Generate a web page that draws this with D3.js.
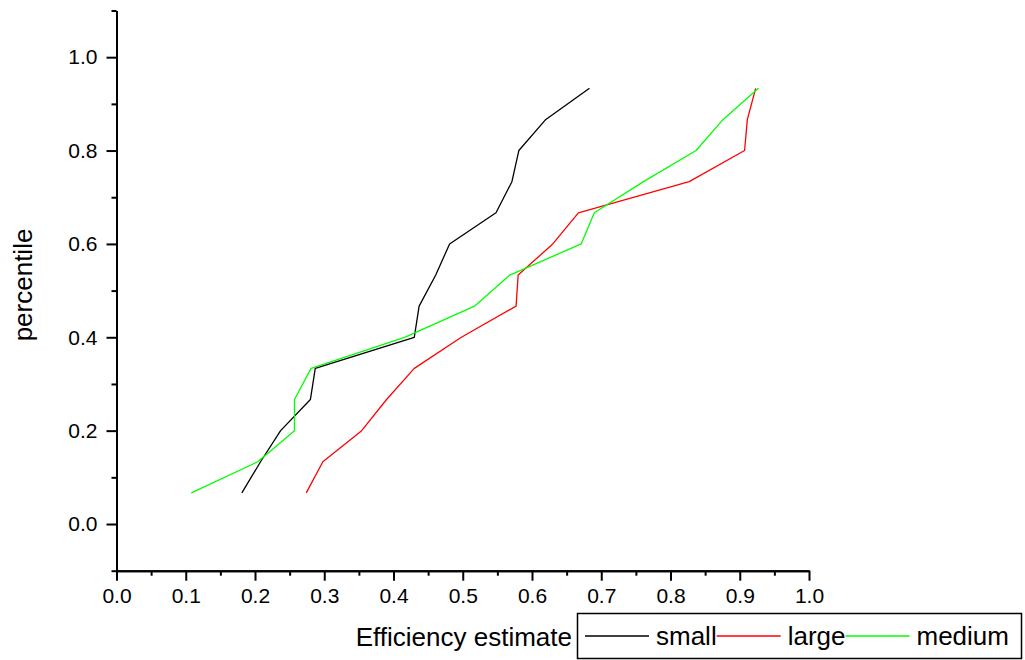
<!DOCTYPE html>
<html>
<head>
<meta charset="utf-8">
<script src="https://cdn.jsdelivr.net/npm/d3@7"></script>
<style>
  html, body { margin: 0; padding: 0; background: #fff; }
  svg { display: block; font-family: "Liberation Sans", Arial, sans-serif; }
</style>
</head>
<body>
<svg id="chart" width="1025" height="660"></svg>
<script>
// ---- data ----
const percentiles = [1,2,3,4,5,6,7,8,9,10,11,12,13,14].map(k => k / 15);
const seriesNames = ["small", "large", "medium"];
const seriesColors = ["#000000", "#ff0000", "#00ff00"];
const smallValues  = [0.181, 0.208, 0.237, 0.280, 0.287, 0.430, 0.437, 0.461, 0.481, 0.548, 0.571, 0.581, 0.620, 0.683];
const largeValues  = [0.274, 0.298, 0.354, 0.390, 0.430, 0.498, 0.577, 0.580, 0.630, 0.667, 0.827, 0.907, 0.911, 0.923];
const mediumValues = [0.108, 0.204, 0.257, 0.257, 0.281, 0.416, 0.517, 0.568, 0.671, 0.690, 0.761, 0.837, 0.876, 0.927];
const xTickValues = [0,0.1,0.2,0.3,0.4,0.5,0.6,0.7,0.8,0.9,1.0];
const yTickValues = [0,0.2,0.4,0.6,0.8,1.0];
const xMinorTicks = [0.05,0.15,0.25,0.35,0.45,0.55,0.65,0.75,0.85,0.95];
const yMinorTicks = [-0.1,0.1,0.3,0.5,0.7,0.9,1.1];
const xTitle = "Efficiency estimate";
const yTitle = "percentile";

const series = [smallValues, largeValues, mediumValues];

const svg = d3.select("#chart");
const x = d3.scaleLinear().domain([0, 1]).range([116.5, 809]);
const y = d3.scaleLinear().domain([-0.1, 1.1]).range([570.7, 10.5]);

// axes
const fmt = d3.format(".1f");
const xAxis = svg.append("g").attr("transform", `translate(0,${y(-0.1)})`)
  .call(d3.axisBottom(x).tickValues(xTickValues).tickFormat(fmt).tickSize(10).tickSizeOuter(0).tickPadding(7));
const xMinor = svg.append("g").attr("transform", `translate(0,${y(-0.1)})`)
  .call(d3.axisBottom(x).tickValues(xMinorTicks).tickFormat("").tickSize(5).tickSizeOuter(0));
const yAxis = svg.append("g").attr("transform", `translate(${x(0)},0)`)
  .call(d3.axisLeft(y).tickValues(yTickValues).tickFormat(fmt).tickSize(10).tickSizeOuter(0).tickPadding(9));
const yMinor = svg.append("g").attr("transform", `translate(${x(0)},0)`)
  .call(d3.axisLeft(y).tickValues(yMinorTicks).tickFormat("").tickSize(5).tickSizeOuter(0));

[xAxis, xMinor, yAxis, yMinor].forEach(g => {
  g.selectAll("path.domain").attr("stroke", "#000").attr("stroke-width", 2);
  g.selectAll(".tick line").attr("stroke", "#000").attr("stroke-width", 2);
  g.selectAll("text").attr("fill", "#000").style("font-size", "21px")
    .style("font-family", '"Liberation Sans", Arial, sans-serif');
});

// lines
const line = d3.line().x(d => x(d[0])).y(d => y(d[1]));
series.forEach((vals, i) => {
  svg.append("path")
    .datum(vals.map((v, j) => [v, percentiles[j]]))
    .attr("fill", "none")
    .attr("stroke", seriesColors[i])
    .attr("stroke-width", 1.3)
    .attr("stroke-linejoin", "round")
    .attr("d", line);
});

// axis titles
svg.append("text")
  .attr("x", 572).attr("y", 646)
  .attr("text-anchor", "end")
  .style("font-size", "26px")
  .text(xTitle);
svg.append("text")
  .attr("transform", "translate(32,285) rotate(-90)")
  .attr("text-anchor", "middle")
  .style("font-size", "26px")
  .text(yTitle);

// legend
const legend = svg.append("g");
legend.append("rect")
  .attr("x", 577.5).attr("y", 613.5).attr("width", 444).attr("height", 45)
  .attr("fill", "#fff").attr("stroke", "#000").attr("stroke-width", 1.5);
let cx = 585;
seriesNames.forEach((name, i) => {
  legend.append("line")
    .attr("x1", cx).attr("x2", cx + 64).attr("y1", 636).attr("y2", 636)
    .attr("stroke", seriesColors[i]).attr("stroke-width", 1.3);
  cx += 64 + 7;
  const t = legend.append("text").attr("x", cx).attr("y", 645)
    .style("font-size", "26px").text(name);
  cx += t.node().getComputedTextLength();
});
</script>
</body>
</html>
